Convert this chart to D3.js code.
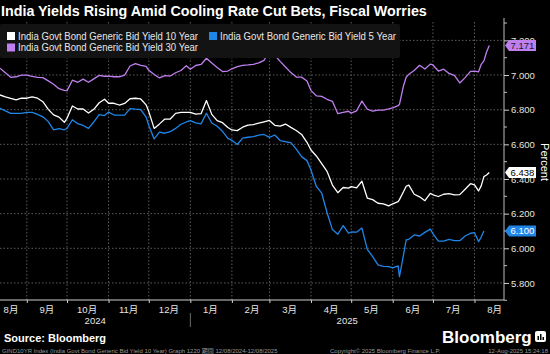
<!DOCTYPE html>
<html>
<head>
<meta charset="utf-8">
<script src="https://cdn.jsdelivr.net/npm/d3@7"></script>
<style>
  html, body { margin: 0; padding: 0; background: #000; }
  svg { display: block; font-family: "Liberation Sans", "Noto Sans CJK JP", sans-serif; }
</style>
</head>
<body>
<svg id="vis" width="550" height="354"></svg>
<script>
// sample dates (roughly every 4 days) and yields
const dates = [
  "2024-08-12","2024-08-16","2024-08-20","2024-08-24","2024-08-28",
  "2024-09-01","2024-09-05","2024-09-09","2024-09-13","2024-09-17","2024-09-21","2024-09-25","2024-09-29",
  "2024-10-01","2024-10-05","2024-10-09","2024-10-13","2024-10-17","2024-10-21","2024-10-25","2024-10-29",
  "2024-11-01","2024-11-05","2024-11-09","2024-11-13","2024-11-17","2024-11-21","2024-11-25","2024-11-29",
  "2024-12-01","2024-12-05","2024-12-09","2024-12-13","2024-12-17","2024-12-21","2024-12-25","2024-12-29",
  "2025-01-01","2025-01-05","2025-01-09","2025-01-13","2025-01-17","2025-01-21","2025-01-25","2025-01-29",
  "2025-02-01","2025-02-05","2025-02-09","2025-02-13","2025-02-17","2025-02-21","2025-02-25",
  "2025-03-01","2025-03-05","2025-03-09","2025-03-13","2025-03-17","2025-03-21","2025-03-25","2025-03-29",
  "2025-04-01","2025-04-05","2025-04-09","2025-04-13","2025-04-17","2025-04-21","2025-04-25","2025-04-29",
  "2025-05-01","2025-05-05","2025-05-09","2025-05-13","2025-05-17","2025-05-21","2025-05-25","2025-05-29",
  "2025-06-01","2025-06-05","2025-06-06","2025-06-09","2025-06-11","2025-06-13","2025-06-17","2025-06-21","2025-06-25","2025-06-29",
  "2025-07-01","2025-07-05","2025-07-09","2025-07-13","2025-07-17","2025-07-21","2025-07-25","2025-07-29",
  "2025-08-01","2025-08-04","2025-08-06","2025-08-08","2025-08-10","2025-08-12"
];

const yield10 = [
  6.885,6.874,6.865,6.857,6.866,
  6.866,6.874,6.866,6.846,6.802,6.770,6.757,6.727,
  6.750,6.821,6.804,6.804,6.781,6.802,6.840,6.860,
  6.837,6.837,6.827,6.836,6.863,6.866,6.862,6.828,
  6.789,6.692,6.718,6.746,6.746,6.779,6.784,6.784,
  6.785,6.774,6.777,6.853,6.773,6.737,6.725,6.697,
  6.683,6.679,6.699,6.711,6.714,6.722,6.730,
  6.738,6.710,6.705,6.717,6.698,6.680,6.657,6.612,
  6.567,6.533,6.489,6.444,6.365,6.321,6.351,6.347,
  6.356,6.349,6.387,6.290,6.281,6.260,6.257,6.245,
  6.257,6.269,6.281,6.326,6.358,6.365,6.312,6.297,6.275,6.317,
  6.309,6.299,6.312,6.315,6.308,6.310,6.341,6.373,
  6.366,6.331,6.360,6.414,6.423,6.438
];

const yield5 = [
  6.808,6.793,6.779,6.779,6.779,
  6.785,6.784,6.773,6.759,6.731,6.684,6.691,6.684,
  6.692,6.742,6.719,6.709,6.692,6.729,6.772,6.766,
  6.786,6.769,6.769,6.769,6.806,6.803,6.801,6.757,
  6.709,6.631,6.671,6.664,6.673,6.692,6.716,6.729,
  6.737,6.724,6.718,6.779,6.723,6.704,6.675,6.634,
  6.623,6.599,6.636,6.641,6.644,6.653,6.657,
  6.640,6.654,6.622,6.615,6.610,6.572,6.529,6.506,
  6.452,6.357,6.318,6.205,6.108,6.081,6.131,6.087,
  6.094,6.093,6.117,5.994,5.952,5.904,5.896,5.894,
  5.887,5.899,5.836,5.961,6.048,6.052,6.077,6.071,6.092,6.111,
  6.085,6.042,6.041,6.051,6.044,6.044,6.071,6.087,
  6.090,6.039,6.065,6.100,null,null
];

const yield30 = [
  7.039,7.013,6.987,6.990,7.000,
  7.000,6.992,6.987,6.985,6.966,6.947,6.921,6.912,
  6.910,6.970,6.958,6.976,6.958,6.978,6.998,6.993,
  6.994,6.990,6.990,6.999,7.052,7.066,7.056,7.050,
  7.027,7.003,6.983,6.996,6.994,7.013,7.026,7.054,
  7.033,7.055,7.061,7.097,7.069,7.044,7.020,7.023,
  7.036,7.049,7.056,7.058,7.062,7.070,7.085,
  7.138,7.114,7.079,7.046,7.014,6.988,6.988,6.966,
  6.910,6.880,6.877,6.860,6.848,6.777,6.785,6.791,
  6.780,6.793,6.850,6.803,6.791,6.798,6.798,6.805,
  6.811,6.823,6.831,6.937,6.987,7.004,7.026,7.056,7.035,7.063,
  7.058,7.023,7.034,7.009,6.998,6.954,6.985,7.021,
  7.022,7.018,7.062,7.082,7.133,7.171
];

const seriesNames = [
  "India Govt Bond Generic Bid Yield 10 Year",
  "India Govt Bond Generic Bid Yield 5 Year",
  "India Govt Bond Generic Bid Yield 30 Year"
];
const seriesColors = ["#ffffff", "#1f86e8", "#bf7fef"];
const labelText = ["#000000", "#ffffff", "#1a1a1a"];

const yMajor = [5.8, 6.0, 6.2, 6.4, 6.6, 6.8, 7.0, 7.2];
const yMinor = [5.7, 5.9, 6.1, 6.3, 6.5, 6.7, 6.9, 7.1, 7.3];

const parse = d3.timeParse("%Y-%m-%d");
const days = dates.map(parse);

const svg = d3.select("svg#vis");
const W = 550, H = 354;
const plot = {left: 0, right: 504, top: 22, bottom: 300};

svg.append("rect").attr("width", W).attr("height", H).attr("fill", "#000");

const x = d3.scaleTime()
  .domain([new Date(2024, 7, 12), new Date(2025, 7, 23)])
  .range([plot.left, plot.right]);
const y = d3.scaleLinear()
  .domain([5.7017, 7.306])
  .range([plot.bottom, plot.top]);

const monthStarts = d3.timeMonth.range(new Date(2024, 8, 1), new Date(2025, 7, 2));
const months = d3.timeMonth.range(new Date(2024, 7, 1), new Date(2025, 8, 1));

// grid
const grid = svg.append("g").attr("stroke", "#5c5c5c").attr("stroke-dasharray", "1.5,2");
grid.selectAll("line.h")
  .data(yMajor)
  .enter()
  .append("line")
  .attr("x1", plot.left).attr("x2", plot.right)
  .attr("y1", d => y(d)).attr("y2", d => y(d));
grid.selectAll("line.v")
  .data(monthStarts)
  .enter()
  .append("line")
  .attr("x1", d => x(d)).attr("x2", d => x(d))
  .attr("y1", plot.top).attr("y2", plot.bottom);

// lines
svg.append("clipPath").attr("id", "clip")
  .append("rect").attr("x", plot.left).attr("y", plot.top)
  .attr("width", plot.right - plot.left).attr("height", plot.bottom - plot.top);

const line = d3.line()
  .defined(d => d.v != null)
  .x(d => x(d.date))
  .y(d => y(d.v));

const series = [yield10, yield5, yield30].map((vals, i) => ({
  name: seriesNames[i],
  color: seriesColors[i],
  values: vals.map((v, j) => ({date: days[j], v: v}))
}));

const drawOrder = [2, 1, 0];
svg.append("g").attr("clip-path", "url(#clip)")
  .selectAll("path")
  .data(drawOrder.map(i => series[i]))
  .enter()
  .append("path")
  .attr("d", d => line(d.values))
  .attr("fill", "none")
  .attr("stroke", d => d.color)
  .attr("stroke-width", 1.3)
  .attr("stroke-linejoin", "round");

// legend
const legend = svg.append("g");
legend.append("rect")
  .attr("x", 0).attr("y", 24).attr("width", 400).attr("height", 34)
  .attr("rx", 2).attr("fill", "#131313");
const legendPos = [[7, 36, 180], [209, 36, 176], [7, 47.5, 180]];
series.forEach((s, i) => {
  const [lx, ly, lw] = legendPos[i];
  legend.append("rect")
    .attr("x", lx).attr("y", ly - 4).attr("width", 8).attr("height", 8)
    .attr("fill", s.color);
  legend.append("text")
    .attr("x", lx + 11).attr("y", ly + 3.5)
    .attr("fill", "#e6e6e6")
    .attr("textLength", lw)
    .attr("lengthAdjust", "spacingAndGlyphs")
    .style("font-size", "10px")
    .text(s.name);
});

// y axis
const yAxis = svg.append("g")
  .attr("transform", "translate(" + plot.right + ",0)")
  .call(d3.axisRight(y).tickValues(yMajor).tickSize(5).tickPadding(2).tickFormat(d3.format(".3f")));
yAxis.select(".domain").attr("stroke", "#bdbdbd").attr("d", "M0," + (plot.top - 4) + "V" + plot.bottom);
yAxis.selectAll(".tick line").attr("stroke", "#d0d0d0");
yAxis.selectAll(".tick text")
  .attr("fill", "#ece4d8")
  .style("font-size", "9.5px")
  .style("font-family", "Liberation Sans");
yAxis.selectAll("line.minor")
  .data(yMinor)
  .enter()
  .append("line")
  .attr("class", "minor")
  .attr("x1", 0).attr("x2", 3)
  .attr("y1", d => y(d)).attr("y2", d => y(d))
  .attr("stroke", "#bdbdbd");

svg.append("text")
  .attr("transform", "translate(541," + 162 + ") rotate(90)")
  .attr("text-anchor", "middle")
  .attr("fill", "#ffffff")
  .style("font-size", "11px")
  .text("Percent");

// last-value tags
const lastVals = series.map((s, i) => {
  const pts = s.values.filter(d => d.v != null);
  return {v: pts[pts.length - 1].v, color: s.color, text: labelText[i]};
});
const tags = svg.append("g").selectAll("g")
  .data(lastVals)
  .enter()
  .append("g")
  .attr("transform", d => "translate(" + plot.right + "," + y(d.v) + ")");
tags.append("path")
  .attr("d", "M1,0L5,-5.5H32V5.5H5Z")
  .attr("fill", d => d.color);
tags.append("text")
  .attr("x", 6.5).attr("y", 3.5)
  .attr("fill", d => d.text)
  .style("font-size", "9.5px")
  .text(d => d3.format(".3f")(d.v));

// x axis
const xAxis = svg.append("g")
  .attr("transform", "translate(0," + plot.bottom + ")")
  .call(d3.axisBottom(x).tickValues(monthStarts).tickSize(3).tickFormat(""));
xAxis.select(".domain").attr("stroke", "#cfcfcf").attr("d", "M" + plot.left + ",0H" + plot.right);
xAxis.selectAll(".tick line").attr("stroke", "#cfcfcf");

svg.append("g").selectAll("text")
  .data(months)
  .enter()
  .append("text")
  .attr("x", d => Math.max(11, x(d3.timeDay.offset(d, 15))))
  .attr("y", 313)
  .attr("text-anchor", "middle")
  .attr("fill", "#e6e6e6")
  .style("font-size", "9.5px")
  .text(d => (d.getMonth() + 1) + "月");

const years = [
  {label: "2024", from: x.domain()[0], to: new Date(2025, 0, 1)},
  {label: "2025", from: new Date(2025, 0, 1), to: x.domain()[1]}
];
svg.append("g").selectAll("text")
  .data(years)
  .enter()
  .append("text")
  .attr("x", d => (x(d.from) + x(d.to)) / 2)
  .attr("y", 324)
  .attr("text-anchor", "middle")
  .attr("fill", "#e6e6e6")
  .style("font-size", "9.5px")
  .text(d => d.label);
svg.append("line")
  .attr("x1", x(new Date(2025, 0, 1))).attr("x2", x(new Date(2025, 0, 1)))
  .attr("y1", 313).attr("y2", 327)
  .attr("stroke", "#6a6a6a");

// title + footer
svg.append("text")
  .attr("x", 1).attr("y", 16)
  .attr("fill", "#ffffff")
  .style("font-size", "14.3px")
  .style("font-weight", "bold")
  .text("India Yields Rising Amid Cooling Rate Cut Bets, Fiscal Worries");

svg.append("text")
  .attr("x", 4).attr("y", 342)
  .attr("fill", "#ffffff")
  .style("font-size", "11px")
  .style("font-weight", "bold")
  .text("Source: Bloomberg");

svg.append("text")
  .attr("x", 442).attr("y", 343)
  .attr("fill", "#ffffff")
  .style("font-size", "17px")
  .style("font-weight", "bold")
  .text("Bloomberg");
const icon = svg.append("g").attr("transform", "translate(535,331)");
icon.append("rect").attr("width", 11).attr("height", 11).attr("rx", 2).attr("fill", "#fff");
icon.selectAll("rect.bar")
  .data([[2.5, 5], [5, 3], [7.5, 6]])
  .enter()
  .append("rect")
  .attr("x", d => d[0]).attr("y", d => d[1])
  .attr("width", 1.5).attr("height", d => 9 - d[1])
  .attr("fill", "#000");

const foot = svg.append("g")
  .attr("fill", "#9a9a9a")
  .style("font-size", "6px");
foot.append("text").attr("x", 2).attr("y", 353)
  .text("GIND10YR Index (India Govt Bond Generic Bid Yield 10 Year) Graph 1220   期間 12/08/2024-12/08/2025");
foot.append("text").attr("x", 330).attr("y", 353)
  .text("Copyright© 2025 Bloomberg Finance L.P.");
foot.append("text").attr("x", 548).attr("y", 353).attr("text-anchor", "end")
  .text("12-Aug-2025 15:24:18");
</script>
</body>
</html>
